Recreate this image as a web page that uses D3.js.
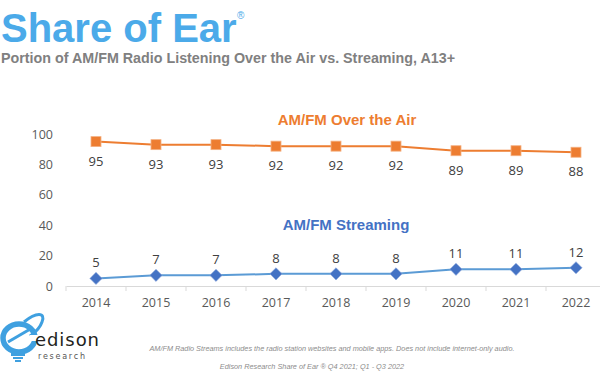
<!DOCTYPE html>
<html><head><meta charset="utf-8">
<script src="https://cdn.jsdelivr.net/npm/d3@7"></script>
<style>
html,body{margin:0;padding:0;background:#fff;}
svg{display:block;}
</style></head>
<body>
<svg id="chart" width="600" height="372"></svg>
<script>
const years = ["2014","2015","2016","2017","2018","2019","2020","2021","2022"];
const overTheAir = [95,93,93,92,92,92,89,89,88];
const streaming = [5,7,7,8,8,8,11,11,12];
const yTicks = [0,20,40,60,80,100];
const title = "Share of Ear";
const subtitle = "Portion of AM/FM Radio Listening Over the Air vs. Streaming, A13+";
const seriesNames = ["AM/FM Over the Air","AM/FM Streaming"];
const notes = ["AM/FM Radio Streams includes the radio station websites and mobile apps. Does not include internet-only audio.",
               "Edison Research Share of Ear ® Q4 2021; Q1 - Q3 2022"];

const svg = d3.select("#chart");
const font = "'Liberation Sans', Arial, sans-serif";
const x = d3.scaleBand().domain(years).range([66,606]);
const y = d3.scaleLinear().domain([0,100]).range([286,134]);
const cx = d => x(d) + x.bandwidth()/2;

// title
svg.append("text").attr("x",1).attr("y",42).text(title)
  .attr("font-family",font).attr("font-weight","bold").attr("font-size",40).attr("fill","#4BAAE9");
svg.append("text").attr("x",237).attr("y",19).text("®")
  .attr("font-family",font).attr("font-size",10).attr("fill","#4BAAE9");
svg.append("text").attr("x",1).attr("y",63).text(subtitle)
  .attr("font-family",font).attr("font-weight","bold").attr("font-size",14.3).attr("fill","#808080");

// x axis
const xAxis = svg.append("g").attr("transform","translate(0,286)")
  .call(d3.axisBottom(x).tickSize(0).tickPadding(12));
xAxis.select(".domain").attr("stroke","#d9d9d9");
xAxis.selectAll("text").attr("font-family","'Open Sans', sans-serif").attr("font-size",12.5).attr("fill","#595959");
svg.append("g").selectAll("line").data(years).join("line")
  .attr("x1",d=>x(d)).attr("x2",d=>x(d)).attr("y1",286).attr("y2",291)
  .attr("stroke","#d9d9d9");

// y axis labels
const yAxis = svg.append("g").attr("transform","translate(53,0)")
  .call(d3.axisLeft(y).tickValues(yTicks).tickSize(0).tickPadding(0));
yAxis.select(".domain").remove();
yAxis.selectAll("text").attr("font-family","'Open Sans', sans-serif").attr("font-size",12.5).attr("fill","#595959");

const line = d3.line().x((d,i)=>cx(years[i])).y(d=>y(d));

// orange series
svg.append("path").datum(overTheAir).attr("d",line).attr("fill","none")
  .attr("stroke","#ED7D31").attr("stroke-width",2);
svg.append("g").selectAll("rect").data(overTheAir).join("rect")
  .attr("x",(d,i)=>cx(years[i])-5).attr("y",d=>y(d)-5).attr("width",10).attr("height",10)
  .attr("fill","#ED7D31").attr("stroke","#F4B183").attr("stroke-width",0.8);
svg.append("g").selectAll("text").data(overTheAir).join("text")
  .attr("x",(d,i)=>cx(years[i])).attr("y",d=>y(d)+24).attr("text-anchor","middle")
  .text(d=>d).attr("font-family","'Open Sans', sans-serif").attr("font-size",13).attr("fill","#404040");

// blue series
svg.append("path").datum(streaming).attr("d",line).attr("fill","none")
  .attr("stroke","#5B9BD5").attr("stroke-width",2);
const sym = d3.symbol().type(d3.symbolDiamond2).size(95);
svg.append("g").selectAll("path").data(streaming).join("path")
  .attr("transform",(d,i)=>`translate(${cx(years[i])},${y(d)})`)
  .attr("d",sym).attr("fill","#4472C4").attr("stroke","#8FAADC").attr("stroke-width",0.6);
svg.append("g").selectAll("text").data(streaming).join("text")
  .attr("x",(d,i)=>cx(years[i])).attr("y",d=>y(d)-11).attr("text-anchor","middle")
  .text(d=>d).attr("font-family","'Open Sans', sans-serif").attr("font-size",13).attr("fill","#404040");

// series titles
svg.append("text").attr("x",347).attr("y",125).attr("text-anchor","middle").text(seriesNames[0])
  .attr("font-family",font).attr("font-weight","bold").attr("font-size",15).attr("fill","#ED7D31");
svg.append("text").attr("x",346).attr("y",230).attr("text-anchor","middle").text(seriesNames[1])
  .attr("font-family",font).attr("font-weight","bold").attr("font-size",15).attr("fill","#4472C4");

// footnotes
svg.append("text").attr("x",332).attr("y",351).attr("text-anchor","middle").text(notes[0])
  .attr("font-family",font).attr("font-style","italic").attr("font-size",7.3).attr("fill","#8c8c8c");
svg.append("text").attr("x",312).attr("y",369).attr("text-anchor","middle").text(notes[1])
  .attr("font-family",font).attr("font-style","italic").attr("font-size",7.3).attr("fill","#8c8c8c");

// logo
const logo = svg.append("g");
const blue = "#3FA0E0";
logo.append("ellipse").attr("cx",19).attr("cy",338).attr("rx",16).attr("ry",14).attr("fill","none")
  .attr("stroke",blue).attr("stroke-width",5.5);
logo.append("path").attr("d","M8,342 L32,328").attr("stroke",blue).attr("stroke-width",3).attr("fill","none");
logo.append("path").attr("d","M24,322 C36,312 46,312 42,322 C40,328 36,332 30,336")
  .attr("stroke",blue).attr("stroke-width",3).attr("fill","none");
logo.append("rect").attr("x",11).attr("y",353).attr("width",14).attr("height",3).attr("fill",blue);
logo.append("rect").attr("x",13).attr("y",357).attr("width",10).attr("height",2).attr("fill",blue);
logo.append("rect").attr("x",15).attr("y",360).attr("width",6).attr("height",2).attr("fill",blue);
logo.append("rect").attr("x",30).attr("y",335).attr("width",8).attr("height",6).attr("fill","#fff");
logo.append("text").attr("x",35).attr("y",346).text("edison")
  .attr("font-family","'DejaVu Sans', sans-serif").attr("font-size",18).attr("fill","#231f20").attr("textLength",64);
logo.append("text").attr("x",38).attr("y",359).text("research")
  .attr("font-family","'DejaVu Sans', sans-serif").attr("font-size",8).attr("fill","#555").attr("textLength",47);
</script>
</body></html>
